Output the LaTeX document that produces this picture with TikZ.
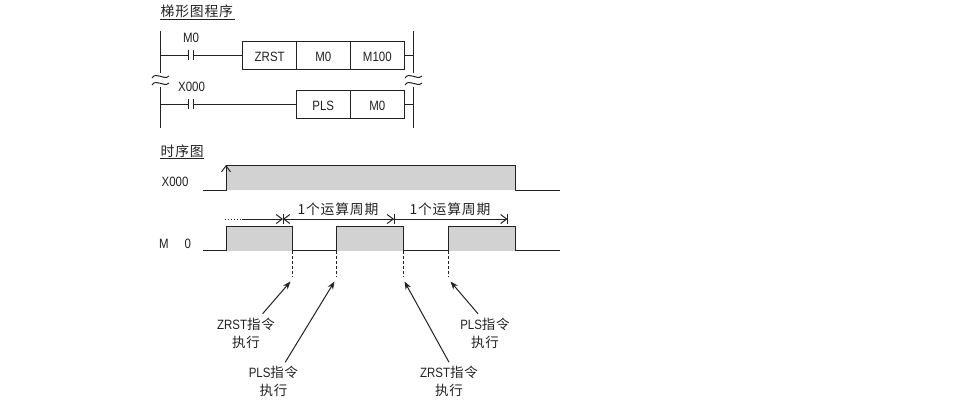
\documentclass[tikz,border=0pt]{standalone}
\usepackage{fontspec}
\setmainfont[FakeStretch=0.85]{Liberation Sans}
\newfontfamily\cjkfont[LetterSpace=6]{Noto Sans CJK SC}
\usetikzlibrary{arrows.meta}
\definecolor{ink}{HTML}{222222}
\definecolor{pulsefill}{HTML}{D2D2D2}
\tikzset{
	wire/.style={draw=ink,line width=1pt},
	cell/.style={draw=ink,line width=1pt,minimum height=28pt,inner sep=0pt,text height=13pt,text depth=0pt,font=\fontsize{13.5}{14}\selectfont,text=ink},
	lbl/.style={inner sep=0pt,font=\fontsize{13.5}{14}\selectfont,text=ink},
	cjklbl/.style={inner sep=0pt,outer sep=4pt,font=\fontsize{13.5}{18}\selectfont,text=ink,align=center},
	heading/.style={inner sep=1pt,anchor=west,font=\cjkfont\fontsize{13.8}{15}\selectfont,text=ink},
	pulse/.style={draw=ink,line width=1pt,fill=pulsefill},
	dashline/.style={draw=ink,line width=1pt,dash pattern=on 3pt off 2pt},
	openarrow/.style={draw=ink,line width=1pt,-{Straight Barb[length=6pt,width=9pt]}},
	pointer/.style={draw=ink,line width=1pt,-{Stealth[length=8pt,width=6pt]}}
}
\begin{document}
\begin{tikzpicture}[x=1pt,y=-1pt]
	\useasboundingbox (0,0) rectangle (954,413);
	% Titres
	\node[heading] (ladderTitle) at (159.5,11) {梯形图程序};
	\node[heading] (timeTitle) at (159.5,151) {时序图};
	\draw[wire] (160,19.5) -- (235,19.5);
	\draw[wire] (160,158) -- (204,158);
	% Rails
	\coordinate (railLa) at (160.5,31);
	\coordinate (railLb) at (160.5,73);
	\coordinate (railLc) at (160.5,87);
	\coordinate (railLd) at (160.5,128);
	\coordinate (railRa) at (413.5,31);
	\coordinate (railRb) at (413.5,73);
	\coordinate (railRc) at (413.5,87);
	\coordinate (railRd) at (413.5,128);
	\draw[wire] (railLa) -- (railLb);
	\draw[wire] (railLc) -- (railLd);
	\draw[wire] (railRa) -- (railRb);
	\draw[wire] (railRc) -- (railRd);
	% Coupures
	\foreach \x in {160.5,413.5}{
		\draw[wire] (\x-8.5,78) .. controls (\x-4,71) and (\x+3,81) .. (\x+8.5,76);
		\draw[wire] (\x-8.5,85) .. controls (\x-4,78) and (\x+3,88) .. (\x+8.5,83);
	}
	% Ligne 1
	\node[cell,minimum width=53.5pt] (zrstBox) at (269.7,55) {ZRST};
	\node[cell,minimum width=54pt] (mzeroBox) at (323.3,55) {M0};
	\node[cell,minimum width=54pt] (mhundredBox) at (377.3,55) {M100};
	\node[lbl] (contactTop) at (191,38) {M0};
	\coordinate (contactAa) at (188,55);
	\coordinate (contactAb) at (193,55);
	\draw[wire] (railLa|-contactAa) -- (contactAa);
	\draw[wire] (contactAb) -- (zrstBox.west);
	\draw[wire] (188,50) -- (188,60);
	\draw[wire] (193,50) -- (193,60);
	\draw[wire] (mhundredBox.east) -- (railRa|-mhundredBox.east);
	% Ligne 2
	\node[cell,minimum width=54pt] (plsBox) at (323.3,104) {PLS};
	\node[cell,minimum width=54pt] (mzeroBoxB) at (377.3,104) {M0};
	\node[lbl] (contactLow) at (191.5,86.5) {X000};
	\coordinate (contactBa) at (188,104);
	\coordinate (contactBb) at (193,104);
	\draw[wire] (railLa|-contactBa) -- (contactBa);
	\draw[wire] (contactBb) -- (plsBox.west);
	\draw[wire] (188,99) -- (188,109);
	\draw[wire] (193,99) -- (193,109);
	\draw[wire] (mzeroBoxB.east) -- (railRa|-mzeroBoxB.east);
	% Chronogramme X000
	\node[lbl] (sigX) at (175,182) {X000};
	\fill[pulsefill] (226,190) rectangle (515,165);
	\draw[wire] (203,190) -- (226,190) -- (226,165) -- (515,165) -- (515,190) -- (560,190);
	\draw[openarrow] (226,190) -- (226,165);
	% Chronogramme M0
	\node[lbl] (sigM) at (175,243.5) {M\hspace{16pt}0};
	\draw[wire] (203,250.5) -- (560,250.5);
	\foreach \a/\b in {226/292.5,336.5/403,448.3/515}{
		\draw[pulse] (\a,250.5) -- (\a,226.5) -- (\b,226.5) -- (\b,250.5);
	}
	% Cotes
	\coordinate (spanA) at (225,219);
	\coordinate (spanB) at (242,219);
	\coordinate (spanC) at (283,219);
	\coordinate (spanD) at (394,219);
	\coordinate (spanE) at (507.5,219);
	\draw[wire,dotted] (spanA) -- (spanB);
	\draw[openarrow] (spanB) -- (spanC);
	\draw[openarrow] (spanD) -- (spanC);
	\draw[openarrow] (spanC) -- (spanD);
	\draw[openarrow] (spanD) -- (spanE);
	\foreach \x in {283,394,507.5}{
		\draw[wire] (\x,214) -- (\x,224);
	}
	\node[heading,anchor=center] (spanLabelA) at (338,209) {1个运算周期};
	\node[heading,anchor=center] (spanLabelB) at (450,209) {1个运算周期};
	% Pointilles
	\foreach \x/\n in {292.5/a,336.5/b,403/c,448.3/d}{
		\coordinate (dashTop\n) at (\x,250.5);
		\coordinate (dashEnd\n) at (\x,277);
		\draw[dashline] (dashTop\n) -- (dashEnd\n);
	}
	% Instructions
	\coordinate (tipA) at (290.5,281.5);
	\coordinate (tipB) at (334.5,281.5);
	\coordinate (tipC) at (404.5,281.5);
	\coordinate (tipD) at (450.5,281.5);
	\node[cjklbl] (execA) at (246,333) {ZRST{\cjkfont 指令}\\{\cjkfont 执行}};
	\node[cjklbl] (execB) at (273.5,381.5) {PLS{\cjkfont 指令}\\{\cjkfont 执行}};
	\node[cjklbl] (execC) at (449,381.5) {ZRST{\cjkfont 指令}\\{\cjkfont 执行}};
	\node[cjklbl] (execD) at (485,333) {PLS{\cjkfont 指令}\\{\cjkfont 执行}};
	\draw[pointer] (execA) -- (tipA);
	\draw[pointer] (execB) -- (tipB);
	\draw[pointer] (execC.north) -- (tipC);
	\draw[pointer] (execD.110) -- (tipD);
\end{tikzpicture}
\end{document}
